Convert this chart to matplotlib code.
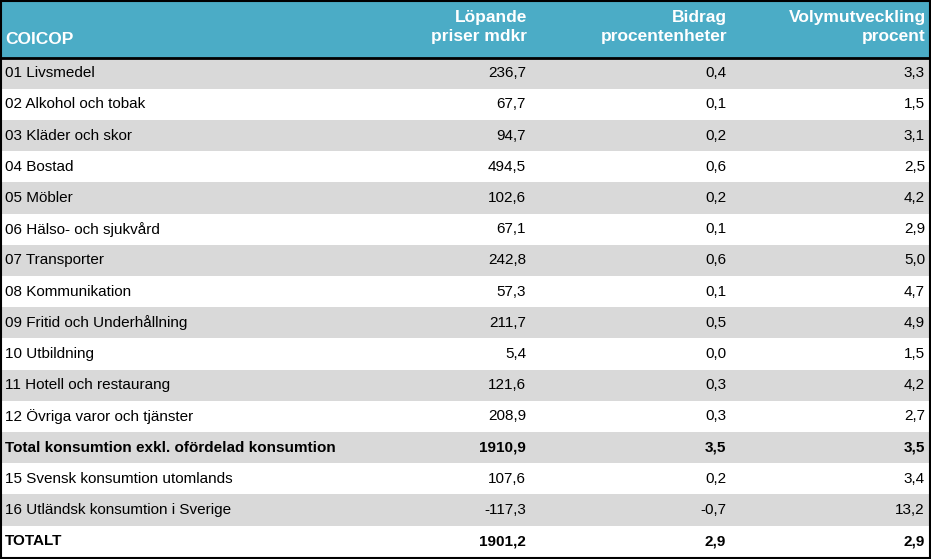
import matplotlib
matplotlib.use("Agg")
import matplotlib.pyplot as plt
from matplotlib.patches import Rectangle

headers = ["COICOP", "Löpande\npriser mdkr", "Bidrag\nprocentenheter", "Volymutveckling\nprocent"]
categories = ["01 Livsmedel", "02 Alkohol och tobak", "03 Kläder och skor", "04 Bostad", "05 Möbler",
              "06 Hälso- och sjukvård", "07 Transporter", "08 Kommunikation", "09 Fritid och Underhållning",
              "10 Utbildning", "11 Hotell och restaurang", "12 Övriga varor och tjänster",
              "Total konsumtion exkl. ofördelad konsumtion", "15 Svensk konsumtion utomlands",
              "16 Utländsk konsumtion i Sverige", "TOTALT"]
lopande = ["236,7", "67,7", "94,7", "494,5", "102,6", "67,1", "242,8", "57,3", "211,7", "5,4", "121,6",
           "208,9", "1910,9", "107,6", "-117,3", "1901,2"]
bidrag = ["0,4", "0,1", "0,2", "0,6", "0,2", "0,1", "0,6", "0,1", "0,5", "0,0", "0,3", "0,3", "3,5",
          "0,2", "-0,7", "2,9"]
volym = ["3,3", "1,5", "3,1", "2,5", "4,2", "2,9", "5,0", "4,7", "4,9", "1,5", "4,2", "2,7", "3,5",
         "3,4", "13,2", "2,9"]
bold_rows = {12, 15}

W, H = 931, 559
fig = plt.figure(figsize=(W/100, H/100), dpi=100)
ax = fig.add_axes([0, 0, 1, 1])
ax.set_xlim(0, W); ax.set_ylim(H, 0); ax.axis("off")
font = "Liberation Sans"
top, rh = 57.5, 31.2
ax.add_patch(Rectangle((0, 0), W, top, color="#4BACC6", lw=0))
for i in range(len(categories)):
    y0 = top + i*rh
    if i % 2 == 0:
        ax.add_patch(Rectangle((0, y0), W, rh, color="#D9D9D9", lw=0))
    yc = y0 + rh/2
    fw = "bold" if i in bold_rows else "normal"
    ax.text(5, yc, categories[i], ha="left", va="center", fontsize=11, family=font, weight=fw)
    for x, col in [(526, lopande), (726, bidrag), (925, volym)]:
        ax.text(x, yc, col[i], ha="right", va="center", fontsize=11, family=font, weight=fw)
ax.plot([0, W], [top, top], color="black", lw=2)
ax.add_patch(Rectangle((0.5, 0.5), W-1.5, H-1.5, fill=False, ec="black", lw=1.5))
ax.text(5, 40, headers[0], ha="left", va="center", fontsize=12.5, family=font, weight="bold", color="white")
for x, h in [(527, headers[1]), (727, headers[2]), (926, headers[3])]:
    ax.text(x, 27, h, ha="right", va="center", fontsize=12.5, family=font, weight="bold", color="white",
            linespacing=1.35)
fig.savefig("out.png", dpi=100)
